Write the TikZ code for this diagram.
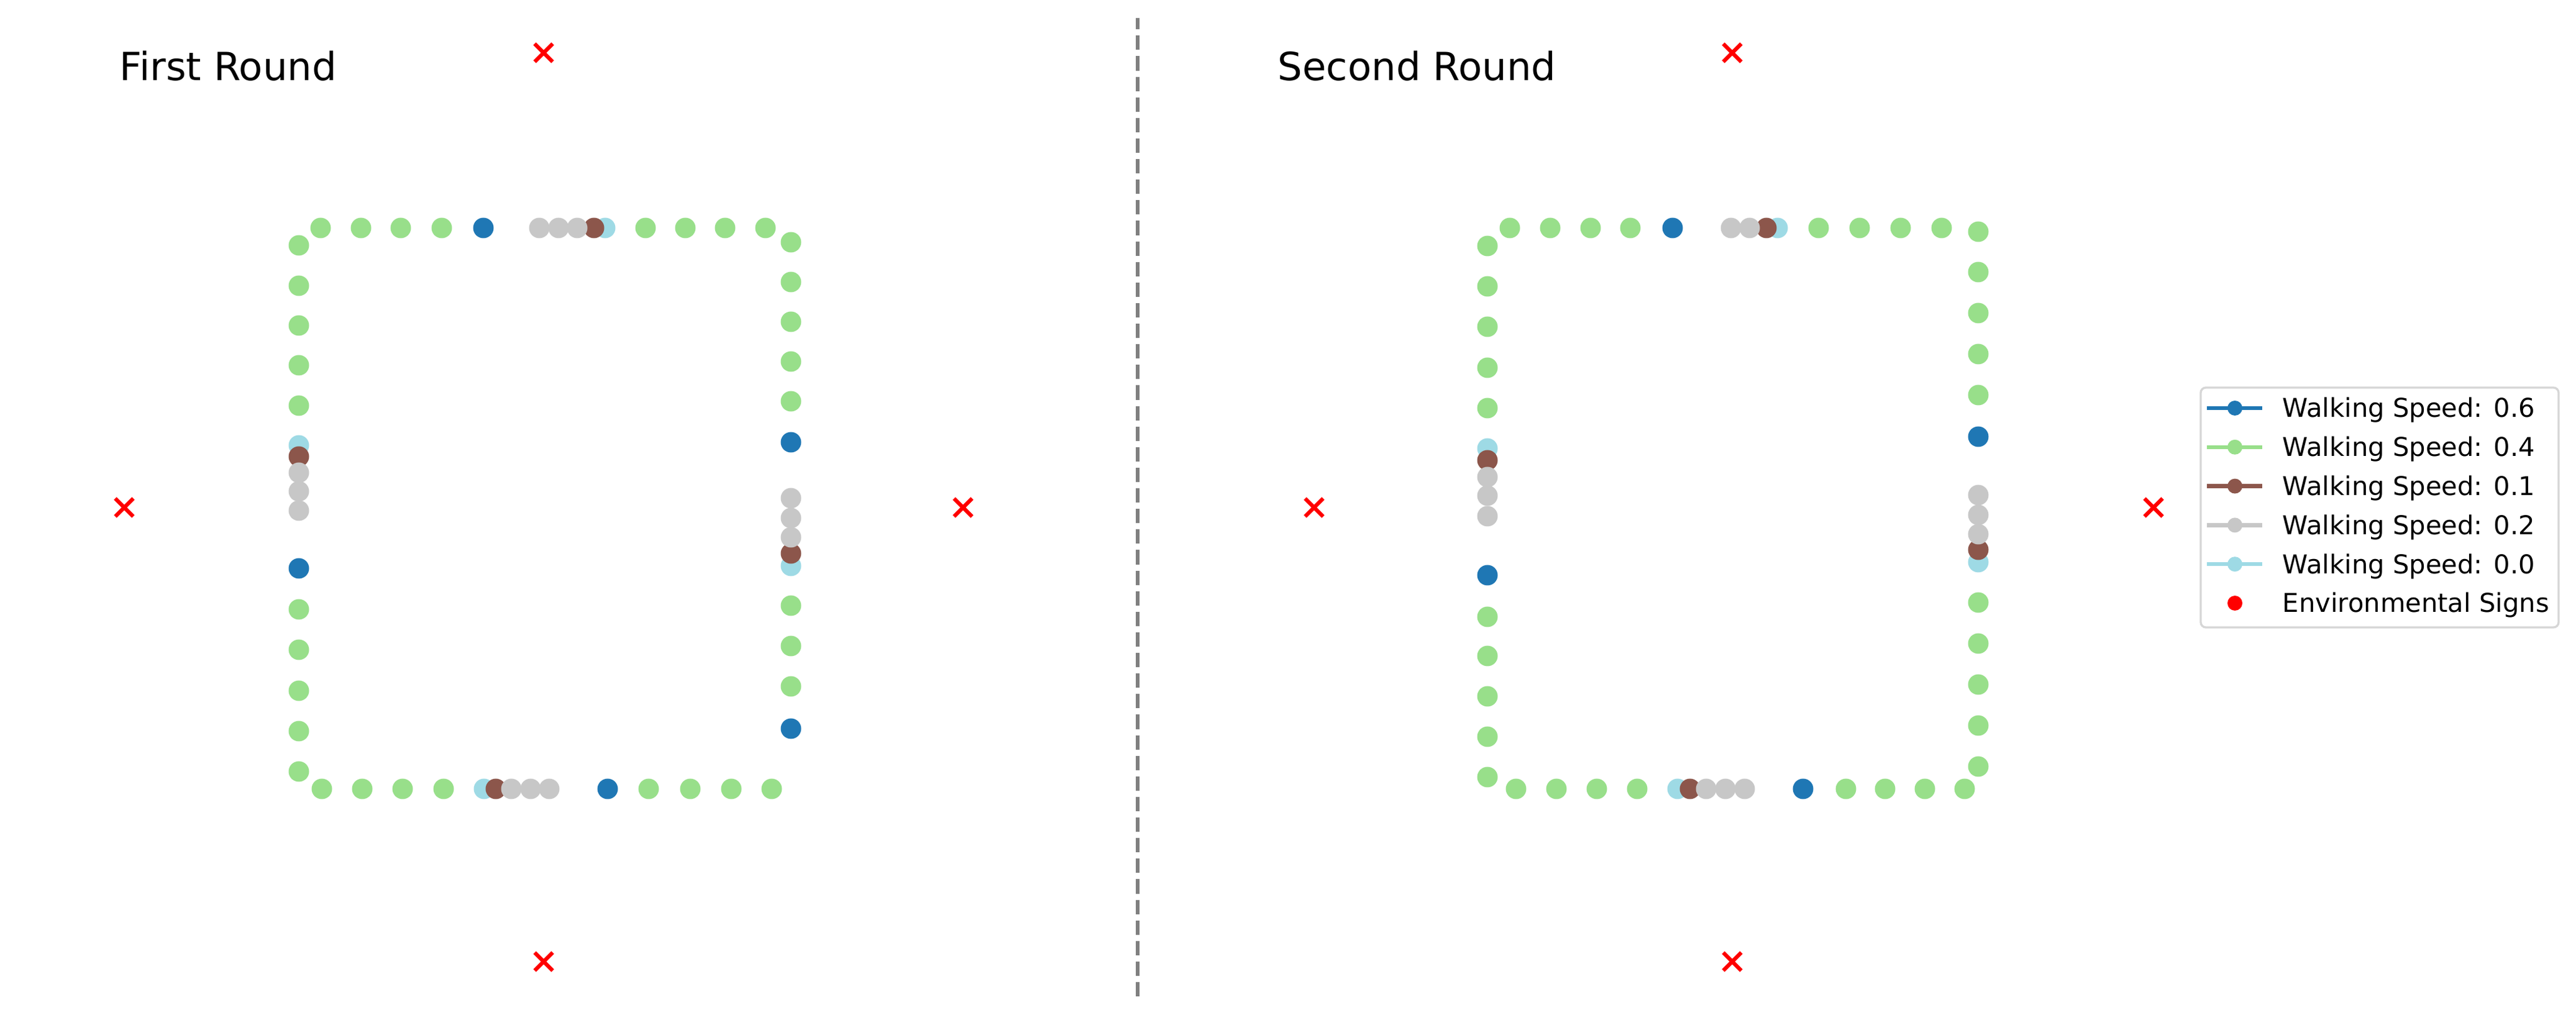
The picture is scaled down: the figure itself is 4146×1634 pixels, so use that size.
\documentclass[tikz,border=0pt]{standalone}
\usepackage{fontspec}
\setmainfont{DejaVu Sans}
\definecolor{cB}{HTML}{1F77B4}
\definecolor{cG}{HTML}{98DF8A}
\definecolor{cBr}{HTML}{8C564B}
\definecolor{cGr}{HTML}{C7C7C7}
\definecolor{cLb}{HTML}{9EDAE5}
\definecolor{cRed}{HTML}{FF0000}
\definecolor{cDash}{HTML}{808080}
\definecolor{cFrame}{HTML}{D6D6D6}
\begin{document}
\begin{tikzpicture}[x=0.24pt,y=-0.24pt,
  dotr/.style={fill=#1},
  xmark/.style={draw=cRed,line width=1.5pt},
  titletext/.style={font=\fontsize{15}{18}\selectfont,inner sep=0pt,anchor=base west},
  legtext/.style={font=\fontsize{10}{12}\selectfont,inner sep=0pt,anchor=base west},
  legline/.style={draw=#1,line width=1.5pt},
  divider/.style={draw=cDash,line width=1.5pt,dash pattern=on 5.55pt off 2.4pt,dash phase=1.15pt},
  legframe/.style={draw=cFrame,fill=white,line width=0.8pt,rounded corners=2pt}]
\useasboundingbox[fill=white] (0,0) rectangle (4146,1634);
% ---------- titles
\node[titletext] (t1) at (192,130) {First Round};
\node[titletext] (t2) at (2056,130) {Second Round};
% ---------- divider
\coordinate (dtop) at (1831,29);
\coordinate (dbot) at (1831,1604);
\draw[divider] (dtop) -- (dbot);
% ---------- left panel dots
\foreach \xx/\c in {1232/cG,1167/cG,1103/cG,1039/cG,974/cLb,956/cBr,929/cGr,899/cGr,868/cGr,778/cB,711/cG,645/cG,581/cG,516/cG}
  \fill[dotr=\c] (\xx,367) circle[radius=3.96pt];
\foreach \yy/\c in {395/cG,460/cG,524/cG,588/cG,653/cG,717/cLb,735/cBr,761/cGr,791/cGr,822/cGr,915/cB,981/cG,1046/cG,1112/cG,1177/cG,1242/cG}
  \fill[dotr=\c] (481,\yy) circle[radius=3.96pt];
\foreach \xx/\c in {518/cG,583/cG,648/cG,714/cG,779/cLb,798/cBr,823/cGr,854/cGr,884/cGr,978/cB,1044/cG,1111/cG,1177/cG,1242/cG}
  \fill[dotr=\c] (\xx,1270) circle[radius=3.96pt];
\foreach \yy/\c in {1173/cB,1105/cG,1040/cG,975/cG,911/cLb,891/cBr,865/cGr,834/cGr,802/cGr,712/cB,646/cG,582/cG,518/cG,454/cG,390/cG}
  \fill[dotr=\c] (1273,\yy) circle[radius=3.96pt];
% ---------- right panel dots
\foreach \xx/\c in {3125/cG,3059/cG,2993/cG,2927/cG,2861/cLb,2843/cBr,2816/cGr,2786/cGr,2692/cB,2624/cG,2560/cG,2495/cG,2430/cG}
  \fill[dotr=\c] (\xx,367) circle[radius=3.96pt];
\foreach \yy/\c in {396/cG,461/cG,526/cG,592/cG,657/cG,722/cLb,741/cBr,768/cGr,798/cGr,831/cGr,926/cB,993/cG,1056/cG,1121/cG,1186/cG,1251/cG}
  \fill[dotr=\c] (2394,\yy) circle[radius=3.96pt];
\foreach \xx/\c in {2440/cG,2505/cG,2570/cG,2635/cG,2700/cLb,2720/cBr,2746/cGr,2777/cGr,2808/cGr,2902/cB,2971/cG,3034/cG,3098/cG,3162/cG}
  \fill[dotr=\c] (\xx,1270) circle[radius=3.96pt];
\foreach \yy/\c in {1234/cG,1168/cG,1102/cG,1036/cG,970/cG,905/cLb,885/cBr,860/cGr,829/cGr,797/cGr,703/cB,636/cG,570/cG,504/cG,438/cG,373/cG}
  \fill[dotr=\c] (3184,\yy) circle[radius=3.96pt];
% ---------- environmental signs
\foreach \n/\xx/\yy in {s1/875/85,s2/875/1548,s3/200/817,s4/1550/817,s5/2788/85,s6/2788/1548,s7/2115/817,s8/3466/817}{
  \coordinate (\n) at (\xx,\yy);
  \draw[xmark] (\n) +(-14.5,-14.5) -- +(14.5,14.5) +(-14.5,14.5) -- +(14.5,-14.5);
}
% ---------- legend
\draw[legframe] (3542,624) rectangle (4118,1010);
\foreach \i/\c/\lab in {0/cB/0.6,1/cG/0.4,2/cBr/0.1,3/cGr/0.2,4/cLb/0.0}{
  \coordinate (la\i) at (3552,{657+62.8*\i});
  \coordinate (lb\i) at (3641,{657+62.8*\i});
  \coordinate (lm\i) at (3597,{657+62.8*\i});
  \draw[legline=\c] (la\i) -- (lb\i);
  \fill[\c] (lm\i) circle[radius=2.88pt];
  \node[legtext] (lt\i) at (3673,{672+62.8*\i}) {Walking Speed: \lab};
}
\coordinate (lm5) at (3597,971);
\fill[cRed] (lm5) circle[radius=2.88pt];
\node[legtext] (lt5) at (3673,986) {Environmental Signs};
\end{tikzpicture}
\end{document}
